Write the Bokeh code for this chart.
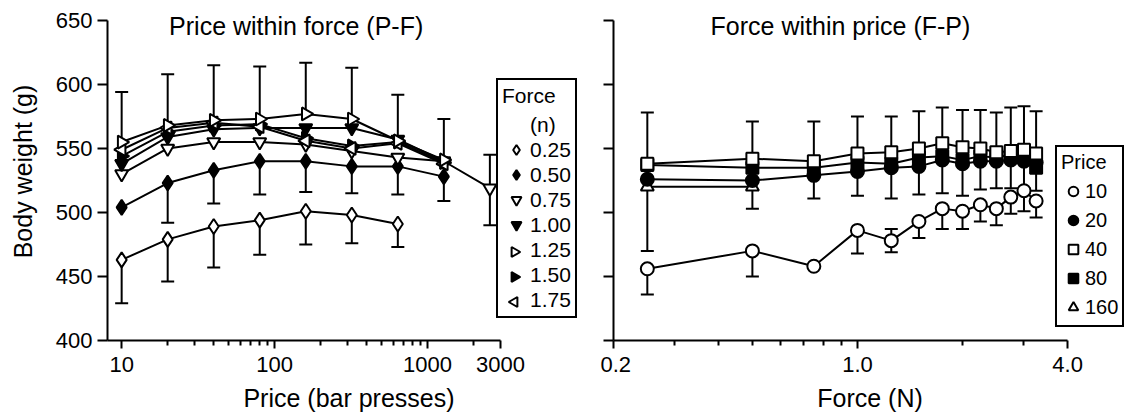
import math
import numpy as np
from bokeh.plotting import figure
from bokeh.layouts import row
from bokeh.models import (FixedTicker, CustomJSTickFormatter, Legend, LegendItem,
                          Label, Range1d)
from bokeh.embed import file_html
from bokeh.resources import INLINE

FONT = "Liberation Sans"
NAN = float("nan")

# ---------------- Left panel: Price within force (P-F) ----------------
prices = [10, 20, 40, 80, 160, 320, 640, 1280, 2560]
force_labels = ["0.25", "0.50", "0.75", "1.00", "1.25", "1.50", "1.75"]
bw_f025 = [463, 479, 489, 494, 501, 498, 491]
bw_f050 = [504, 523, 533, 540, 540, 536, 536, 528]
bw_f075 = [530, 550, 555, 555, 553, 548, 543, 540, 519]
bw_f100 = [538, 559, 565, 566, 566, 566, 557, 540]
bw_f125 = [555, 568, 572, 573, 577, 573, 556, 541]
bw_f150 = [544, 563, 568, 569, 558, 552, 555, 539]
bw_f175 = [549, 566, 570, 567, 556, 550, 554, 538]
pf_upper_cap = [594, 608, 615, 614, 617, 613, 592, 573, 545]
pf_lower_cap_f025 = [429, 446, 457, 467, 475, 476, 473]
pf_lower_cap_f050 = [NAN, 492, 507, 514, 516, 515, 514, 509]
pf_lower_cap_f075 = [NAN, NAN, NAN, NAN, NAN, NAN, NAN, NAN, 490]

# ---------------- Right panel: Force within price (F-P) ----------------
forces = [0.25, 0.5, 0.75, 1.0, 1.25, 1.5, 1.75, 2.0, 2.25, 2.5, 2.75, 3.0, 3.25]
price_labels = ["10", "20", "40", "80", "160"]
bw_p10 = [456, 470, 458, 486, 478, 493, 503, 501, 506, 503, 512, 517, 509]
bw_p20 = [526, 525, 529, 532, 535, 536, 541, 538, 540, 540, 541, 540, 539]
bw_p40 = [538, 542, 540, 546, 547, 550, 554, 551, 550, 547, 548, 549, 546]
bw_p80 = [537, 535, 535, 539, 538, 543, 544, 541, 544, 543, 545, 544, 535]
bw_p160 = [520, 520]
fp_upper_cap = [578, 571, 571, 575, 575, 579, 582, 580, 580, 578, 582, 583, 579]
fp_lower_cap = [470, 503, 511, 513, 511, 514, 515, 513, 518, 519, 519, 519, 517]
fp_p10_lower_cap = [436, 450, NAN, 468, 469, 480, 487, 487, 493, 490, 499, 501, 496]
fp_p10_upper_cap = [NAN, NAN, NAN, NAN, 487, NAN, NAN, NAN, NAN, NAN, NAN, NAN, NAN]

y_ticks = [400, 450, 500, 550, 600, 650]
pf_x_ticks = [10, 100, 1000, 3000]
pf_x_minor = [20, 30, 40, 50, 60, 70, 80, 90, 200, 300, 400, 500, 600, 700, 800, 900, 2000]
fp_x_ticks = [0.2, 1.0, 4.0]
fp_x_minor = [0.3, 0.4, 0.5, 0.6, 0.7, 0.8, 0.9, 2.0, 3.0]

LW = 2
TICK_FS = "22px"
LABEL_FS = "25px"
TITLE_FS = "25px"

# layout (pixels)
FIG_H = 416
BORDER_TOP, BORDER_BOTTOM = 2, 76
P1_W, P1_LEFT, P1_RIGHT = 600, 107, 10
P2_W, P2_LEFT, P2_RIGHT = 527, 13, 1
P1_XR = (8.08, 11650)
P2_XR = (0.2, 5.9)
YR = (400, 664)


def padded(vals, n):
    return list(vals) + [NAN] * (n - len(vals))


def style_axes(p):
    for ax in p.axis:
        ax.axis_line_width = LW
        ax.major_tick_line_width = LW
        ax.minor_tick_line_width = LW
        ax.major_tick_in = 0
        ax.minor_tick_in = 0
        ax.major_label_text_font = FONT
        ax.major_label_text_font_size = TICK_FS
        ax.axis_label_text_font = FONT
        ax.axis_label_text_font_size = LABEL_FS
        ax.axis_label_text_font_style = "normal"
        ax.axis_line_color = "black"
        ax.major_tick_line_color = "black"
        ax.minor_tick_line_color = "black"
        ax.major_label_text_color = "black"
        ax.axis_label_text_color = "black"
    p.grid.visible = False
    p.outline_line_color = None


def draw_bars(p, xs, base, cap):
    xb, y0, y1 = [], [], []
    for x, b, c in zip(xs, base, cap):
        if not (math.isnan(b) or math.isnan(c)):
            xb.append(x); y0.append(b); y1.append(c)
    p.segment(x0=xb, y0=y0, x1=xb, y1=y1, line_color="black", line_width=LW)
    p.scatter(x=xb, y=y1, marker="dash", size=13, line_color="black", line_width=LW)


# ======================= Figure 1 =======================
# frame extends past the axes' ends to leave room for the title and legend
p1 = figure(width=P1_W, height=FIG_H, x_axis_type="log",
            x_range=Range1d(*P1_XR), y_range=Range1d(*YR),
            output_backend="svg", toolbar_location=None,
            min_border_left=P1_LEFT, min_border_right=P1_RIGHT,
            min_border_top=BORDER_TOP, min_border_bottom=BORDER_BOTTOM)
p1.xaxis.axis_label = "Price (bar presses)"
p1.yaxis.axis_label = "Body weight (g)"
p1.xaxis.ticker = FixedTicker(ticks=pf_x_ticks, minor_ticks=pf_x_minor)
p1.xaxis.formatter = CustomJSTickFormatter(code="return tick.toFixed(0)")
p1.xaxis.bounds = (8.08, 3000)
p1.yaxis.ticker = FixedTicker(ticks=y_ticks, minor_ticks=[])
p1.yaxis.bounds = (400, 650)
style_axes(p1)
p1.xaxis.major_tick_out = 8
p1.xaxis.minor_tick_out = 5
p1.xaxis.major_label_standoff = 8
p1.xaxis.axis_label_standoff = 9
p1.yaxis.major_tick_out = 10
p1.yaxis.major_label_standoff = 5
p1.yaxis.axis_label_standoff = 16

pf_series = [bw_f025, bw_f050, bw_f075, bw_f100, bw_f125, bw_f150, bw_f175]
n9 = len(prices)
pf_mat = np.array([padded(s, n9) for s in pf_series], dtype=float)
pf_top = np.nanmax(pf_mat, axis=0)

draw_bars(p1, prices, list(pf_top), pf_upper_cap)
draw_bars(p1, prices, padded(bw_f025, n9), padded(pf_lower_cap_f025, n9))
draw_bars(p1, prices, padded(bw_f050, n9), padded(pf_lower_cap_f050, n9))
draw_bars(p1, prices, padded(bw_f075, n9), pf_lower_cap_f075)

for s in pf_series:
    p1.line(prices[:len(s)], s, line_color="black", line_width=LW)

pf_styles = [
    dict(marker="diamond", fill_color="white", angle=0.0, size=15),
    dict(marker="diamond", fill_color="black", angle=0.0, size=15),
    dict(marker="inverted_triangle", fill_color="white", angle=0.0, size=13),
    dict(marker="inverted_triangle", fill_color="black", angle=0.0, size=13),
    dict(marker="triangle", fill_color="white", angle=-math.pi / 2, size=13),
    dict(marker="triangle", fill_color="black", angle=-math.pi / 2, size=13),
    dict(marker="triangle", fill_color="white", angle=math.pi / 2, size=13),
]
draw_order = [0, 1, 2, 3, 5, 6, 4]
pf_renderers = {}
for i in draw_order:
    s = pf_series[i]
    st = pf_styles[i]
    r = p1.scatter(prices[:len(s)], s, marker=st["marker"], size=st["size"], angle=st["angle"],
                   fill_color=st["fill_color"], line_color="black", line_width=LW)
    pf_renderers[i] = r

# Legend (Bokeh does not rotate legend glyphs, so the rotated keys are drawn
# as glyphs beneath a transparent legend box)
LEG1_LOC = (389, 22)
LEG1_PAD, LEG1_ROW, LEG1_GW = 4, 25, 28
rotated = [i for i in range(7) if pf_styles[i]["angle"] != 0.0]
blank1 = p1.scatter(x=[], y=[], marker="circle", size=1, fill_alpha=0, line_alpha=0)
items1 = [LegendItem(label="(n)", renderers=[blank1])]
for i in range(7):
    rr = blank1 if i in rotated else pf_renderers[i]
    items1.append(LegendItem(label=force_labels[i], renderers=[rr]))
leg1 = Legend(items=items1, location=LEG1_LOC, title="Force",
              title_text_font=FONT, title_text_font_size="21px", title_text_font_style="normal",
              title_text_color="black",
              label_text_font=FONT, label_text_font_size="21px", label_text_color="black",
              border_line_color="black", border_line_width=LW, border_line_alpha=1,
              background_fill_alpha=0,
              padding=LEG1_PAD, spacing=0, glyph_height=LEG1_ROW, glyph_width=LEG1_GW,
              label_height=LEG1_ROW, label_standoff=0, title_standoff=4, margin=0)
p1.add_layout(leg1, "center")

frame1_w = P1_W - P1_LEFT - P1_RIGHT
frame_h = FIG_H - BORDER_TOP - BORDER_BOTTOM
dec1 = math.log10(P1_XR[1] / P1_XR[0]) / frame1_w
key_x = P1_XR[0] * 10 ** (dec1 * (LEG1_LOC[0] + LEG1_PAD + LEG1_GW / 2))
for i in rotated:
    rows_from_bottom = 6 - i
    py = LEG1_LOC[1] + LEG1_PAD + LEG1_ROW / 2 + rows_from_bottom * LEG1_ROW
    key_y = YR[0] + py * (YR[1] - YR[0]) / frame_h
    st = pf_styles[i]
    p1.scatter([key_x], [key_y], marker=st["marker"], size=10, angle=st["angle"],
               fill_color=st["fill_color"], line_color="black", line_width=LW)

p1.add_layout(Label(x=138.5, y=646, text="Price within force (P-F)", text_align="center",
                    text_baseline="middle", text_font=FONT, text_font_size=TITLE_FS,
                    text_color="black"))

# ======================= Figure 2 =======================
p2 = figure(width=P2_W, height=FIG_H, x_axis_type="log",
            x_range=Range1d(*P2_XR), y_range=Range1d(*YR),
            output_backend="svg", toolbar_location=None,
            min_border_left=P2_LEFT, min_border_right=P2_RIGHT,
            min_border_top=BORDER_TOP, min_border_bottom=BORDER_BOTTOM)
p2.xaxis.axis_label = "Force (N)"
p2.xaxis.ticker = FixedTicker(ticks=fp_x_ticks, minor_ticks=fp_x_minor)
p2.xaxis.formatter = CustomJSTickFormatter(code="return tick.toFixed(1)")
p2.xaxis.bounds = (0.2, 4.0)
p2.yaxis.ticker = FixedTicker(ticks=y_ticks, minor_ticks=[])
p2.yaxis.formatter = CustomJSTickFormatter(code="return ''")
p2.yaxis.bounds = (400, 650)
style_axes(p2)
p2.xaxis.major_tick_out = 8
p2.xaxis.minor_tick_out = 5
p2.xaxis.major_label_standoff = 8
p2.xaxis.axis_label_standoff = 9
p2.yaxis.major_tick_out = 10
p2.yaxis.major_label_standoff = 0

n13 = len(forces)
fp_cluster = np.array([padded(s, n13) for s in [bw_p20, bw_p40, bw_p80, bw_p160]], dtype=float)
fp_top = np.nanmax(fp_cluster, axis=0)
fp_low = np.nanmin(np.array([padded(s, n13) for s in [bw_p20, bw_p80, bw_p160]], dtype=float), axis=0)

draw_bars(p2, forces, list(fp_top), fp_upper_cap)
draw_bars(p2, forces, list(fp_low), fp_lower_cap)
draw_bars(p2, forces, bw_p10, fp_p10_lower_cap)
draw_bars(p2, forces, bw_p10, fp_p10_upper_cap)

fp_series = [bw_p10, bw_p20, bw_p40, bw_p80, bw_p160]
for s in fp_series:
    p2.line(forces[:len(s)], s, line_color="black", line_width=LW)

fp_styles = [
    dict(marker="circle", fill_color="white", size=13),
    dict(marker="circle", fill_color="black", size=13),
    dict(marker="square", fill_color="white", size=12),
    dict(marker="square", fill_color="black", size=12),
    dict(marker="triangle", fill_color="white", size=13),
]
fp_renderers = {}
for i in [4, 1, 3, 2, 0]:
    s = fp_series[i]
    st = fp_styles[i]
    r = p2.scatter(forces[:len(s)], s, marker=st["marker"], size=st["size"],
                   fill_color=st["fill_color"], line_color="black", line_width=LW)
    fp_renderers[i] = r

items2 = [LegendItem(label=price_labels[i], renderers=[fp_renderers[i]]) for i in range(5)]
leg2 = Legend(items=items2, location=(442, 13), title="Price",
              title_text_font=FONT, title_text_font_size="20px", title_text_font_style="normal",
              title_text_color="black",
              label_text_font=FONT, label_text_font_size="20px", label_text_color="black",
              border_line_color="black", border_line_width=LW, border_line_alpha=1,
              background_fill_alpha=1,
              padding=4, spacing=1, glyph_height=28, glyph_width=24, label_height=26,
              label_standoff=0, title_standoff=3, margin=0)
p2.add_layout(leg2, "center")

p2.add_layout(Label(x=0.894, y=646, text="Force within price (F-P)", text_align="center",
                    text_baseline="middle", text_font=FONT, text_font_size=TITLE_FS,
                    text_color="black"))

layout = row(p1, p2, spacing=0)
open("out.html", "w").write(file_html(layout, INLINE))
